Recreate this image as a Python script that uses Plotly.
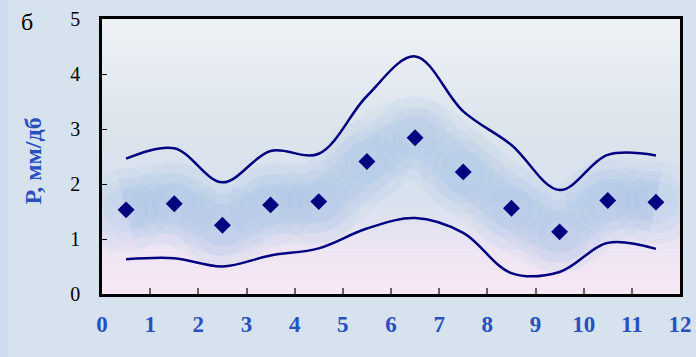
import plotly.graph_objects as go

# Data
x_pos = [0.5, 1.5, 2.5, 3.5, 4.5, 5.5, 6.5, 7.5, 8.5, 9.5, 10.5, 11.5]
p_mean = [1.53, 1.64, 1.25, 1.62, 1.68, 2.41, 2.84, 2.22, 1.56, 1.13, 1.70, 1.67]
p_upper = [2.46, 2.65, 2.03, 2.60, 2.55, 3.60, 4.32, 3.32, 2.71, 1.89, 2.53, 2.52]
p_lower = [0.63, 0.65, 0.50, 0.70, 0.83, 1.19, 1.38, 1.11, 0.38, 0.40, 0.93, 0.82]
x_ticks = list(range(0, 13))
y_ticks = list(range(0, 6))

NAVY = "#000080"
BLUE = "#2a4fbf"
SERIF = "Liberation Serif"

fig = go.Figure()

# Soft glow band around the mean points
for w, a in [(80, 0.06), (60, 0.08), (40, 0.09)]:
    fig.add_trace(go.Scatter(
        x=x_pos, y=p_mean, mode="lines", line=dict(shape="spline", width=w,
        color=f"rgba(140,180,228,{a})"), hoverinfo="skip", showlegend=False))
for s, a in [(84, 0.07), (62, 0.08), (44, 0.09)]:
    fig.add_trace(go.Scatter(
        x=x_pos, y=p_mean, mode="markers",
        marker=dict(symbol="circle", size=s, color=f"rgba(140,180,228,{a})", line=dict(width=0)),
        hoverinfo="skip", showlegend=False))

fig.add_trace(go.Scatter(x=x_pos, y=p_upper, mode="lines",
                         line=dict(shape="spline", smoothing=1.0, color=NAVY, width=2.5),
                         showlegend=False))
fig.add_trace(go.Scatter(x=x_pos, y=p_lower, mode="lines",
                         line=dict(shape="spline", smoothing=1.0, color=NAVY, width=2.5),
                         showlegend=False))
fig.add_trace(go.Scatter(x=x_pos, y=p_mean, mode="markers",
                         marker=dict(symbol="diamond", size=13, color=NAVY, line=dict(width=0)),
                         showlegend=False))

# Vertical gradient background of plot area
stops = [(0.0, (249, 232, 245)), (0.15, (238, 229, 243)), (0.35, (216, 225, 238)),
         (0.6, (220, 228, 236)), (1.0, (238, 242, 246))]
N = 60
shapes = []
for i in range(N):
    t = (i + 0.5) / N
    for j in range(len(stops) - 1):
        if stops[j][0] <= t <= stops[j + 1][0]:
            f = (t - stops[j][0]) / (stops[j + 1][0] - stops[j][0])
            c = [round(stops[j][1][k] + f * (stops[j + 1][1][k] - stops[j][1][k])) for k in range(3)]
            break
    shapes.append(dict(type="rect", xref="x domain", yref="y domain", x0=0, x1=1,
                       y0=i / N, y1=(i + 1) / N + 0.002, fillcolor=f"rgb({c[0]},{c[1]},{c[2]})",
                       line=dict(width=0), layer="below"))
# light strip on the left edge of the page
shapes.append(dict(type="rect", xref="paper", yref="paper", x0=-102 / 578, x1=-94 / 578,
                   y0=-63 / 275, y1=1 + 19 / 275, fillcolor="#cfdcef", line=dict(width=0), layer="below"))

fig.update_layout(
    width=696, height=357,
    margin=dict(l=102, r=16, t=19, b=63),
    paper_bgcolor="#d6e2ee",
    plot_bgcolor="rgba(0,0,0,0)",
    shapes=shapes,
    xaxis=dict(range=[0, 12], tickvals=x_ticks, ticktext=[str(v) for v in x_ticks],
               showgrid=False, zeroline=False, showline=True, linecolor="black", linewidth=2.5,
               mirror=True, ticks="inside", ticklen=6, tickwidth=1.5, tickcolor="#666666",
               tickfont=dict(family=SERIF, size=23, color=BLUE, weight="bold"),
               ticklabelstandoff=8, automargin=False),
    yaxis=dict(range=[0, 5], tickvals=y_ticks, showgrid=False, zeroline=False,
               showline=True, linecolor="black", linewidth=2.5, mirror=True,
               ticks="inside", ticklen=5, tickwidth=1.2, tickcolor="black",
               tickfont=dict(family=SERIF, size=20, color="black"),
               ticklabelstandoff=15, automargin=False),
    annotations=[
        dict(text="Р, мм/дб", textangle=-90, xref="paper", yref="paper", x=0, y=0.5,
             xanchor="center", yanchor="middle", xshift=-70, yshift=-5, showarrow=False,
             font=dict(family=SERIF, size=24, color=BLUE, weight="bold")),
        dict(text="б", xref="paper", yref="paper", x=0, y=1, xanchor="center", yanchor="middle",
             xshift=-75, yshift=-3, showarrow=False,
             font=dict(family=SERIF, size=24, color="black")),
    ],
)

fig.write_html("out.html", config={"displayModeBar": False},
               post_script="document.body.style.margin='0px';document.body.style.background='#d6e2ee';")
